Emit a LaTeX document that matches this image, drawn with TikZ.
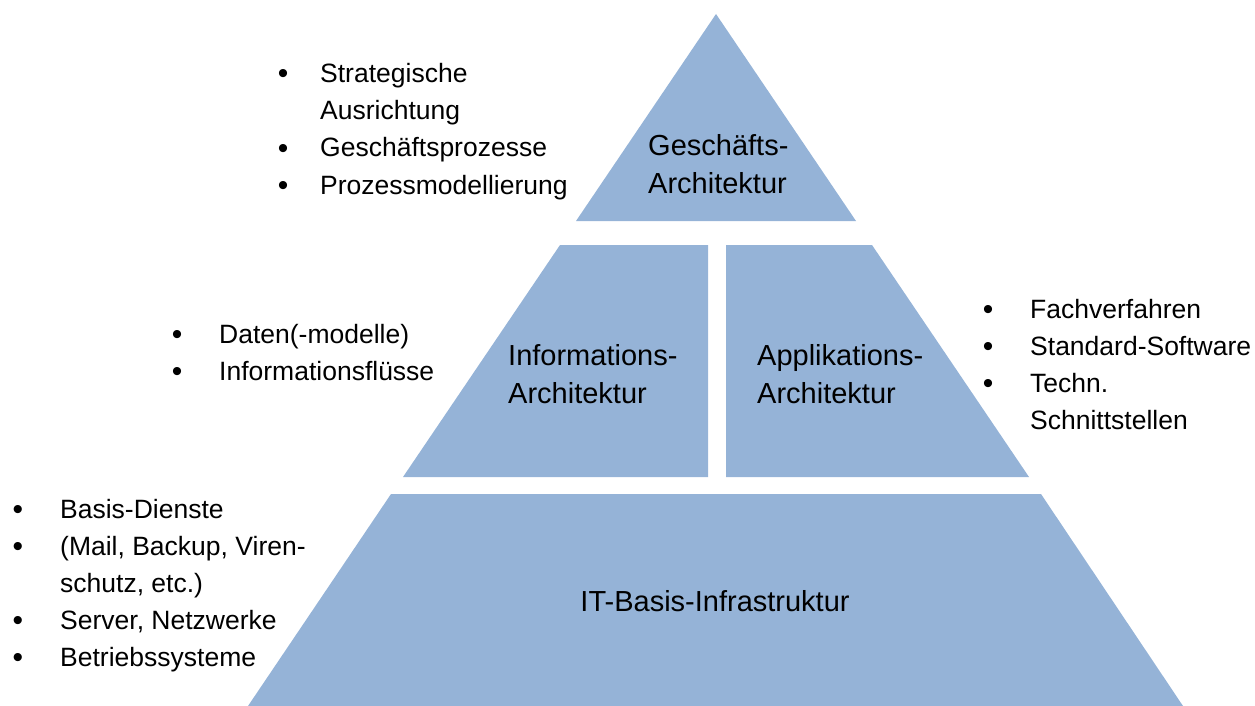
\documentclass[tikz,border=0pt]{standalone}
\usepackage{fontspec}
\setmainfont{Liberation Sans}
\definecolor{pyr}{HTML}{95B3D7}
\tikzset{
  layer/.style={fill=pyr, draw=none},
  item/.style={anchor=base west, inner sep=0pt, font=\fontsize{26.5}{37}\selectfont},
  bul/.style={anchor=base, inner sep=0pt, yshift=-1pt, font=\fontsize{30}{37}\selectfont},
  lbl/.style={anchor=base west, inner sep=0pt, font=\fontsize{29}{38}\selectfont},
}
\begin{document}
\begin{tikzpicture}[x=1pt,y=-1pt]
\useasboundingbox (0,0) rectangle (1255,706);
% pyramid layers
\fill[layer] (716,14) -- (856,221) -- (576,221) -- cycle;
\fill[layer] (560,245) -- (708,245) -- (708,477) -- (403,477) -- cycle;
\fill[layer] (726,245) -- (872,245) -- (1029,477) -- (726,477) -- cycle;
\fill[layer] (391,494) -- (1041,494) -- (1183,706) -- (248,706) -- cycle;
% labels
\node[lbl] (g1) at (648,155) {Geschäfts-};
\node[lbl] (g2) at (648,193) {Architektur};
\node[lbl] (i1) at (508,365) {Informations-};
\node[lbl] (i2) at (508,403) {Architektur};
\node[lbl] (a1) at (757,365) {Applikations-};
\node[lbl] (a2) at (757,403) {Architektur};
\node[lbl, anchor=base] (it) at (715,611) {IT-Basis-Infrastruktur};
% top list
\node[bul] (tb1) at (283,83) {•};
\node[item] (t1) at (320,83) {Strategische};
\node[item] (t2) at (320,120) {Ausrichtung};
\node[bul] (tb3) at (283,157) {•};
\node[item] (t3) at (320,157) {Geschäftsprozesse};
\node[bul] (tb4) at (283,194) {•};
\node[item] (t4) at (320,194) {Prozessmodellierung};
% middle left list
\node[bul] (mb1) at (177,343) {•};
\node[item] (m1) at (219,343) {Daten(-modelle)};
\node[bul] (mb2) at (177,380) {•};
\node[item] (m2) at (219,380) {Informationsflüsse};
% right list
\node[bul] (rb1) at (988,318) {•};
\node[item] (r1) at (1030,318) {Fachverfahren};
\node[bul] (rb2) at (988,355) {•};
\node[item] (r2) at (1030,355) {Standard-Software};
\node[bul] (rb3) at (988,392) {•};
\node[item] (r3) at (1030,392) {Techn.};
\node[item] (r4) at (1030,429) {Schnittstellen};
% bottom left list
\node[bul] (bb1) at (18,518) {•};
\node[item] (b1) at (60,518) {Basis-Dienste};
\node[bul] (bb2) at (18,555) {•};
\node[item] (b2) at (60,555) {(Mail, Backup, Viren-};
\node[item] (b3) at (60,592) {schutz, etc.)};
\node[bul] (bb4) at (18,629) {•};
\node[item] (b4) at (60,629) {Server, Netzwerke};
\node[bul] (bb5) at (18,666) {•};
\node[item] (b5) at (60,666) {Betriebssysteme};
\end{tikzpicture}
\end{document}
